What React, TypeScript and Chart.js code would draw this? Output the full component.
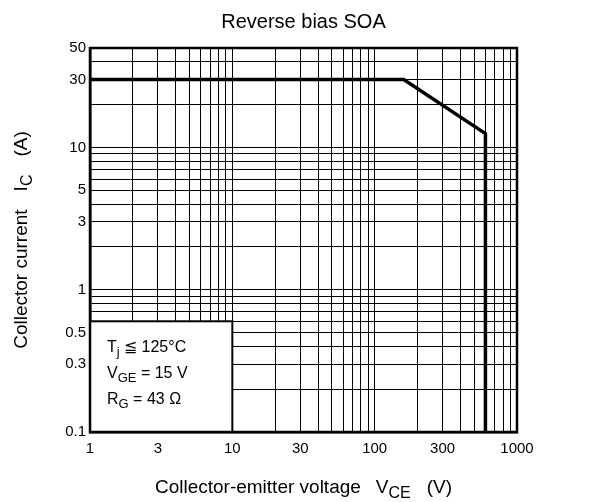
import React, { useEffect, useRef } from "react";
import { Chart, registerables } from "chart.js";

Chart.register(...registerables);

const TITLE = "Reverse bias SOA";
const X_TITLE_MAIN = "Collector-emitter voltage";
const X_TITLE_SYM = "V";
const X_TITLE_SUB = "CE";
const X_TITLE_UNIT = "(V)";
const Y_TITLE_MAIN = "Collector current";
const Y_TITLE_SYM = "I";
const Y_TITLE_SUB = "C";
const Y_TITLE_UNIT = "(A)";

// SOA boundary curve
const curveVce = [1, 160, 600, 600];
const curveIc = [30, 30, 12.5, 0.1];

// grid ticks
const xGridTicks = [1, 2, 3, 4, 5, 6, 7, 8, 9, 10, 20, 30, 40, 50, 60, 70, 80, 90, 100, 200, 300, 400, 500, 600, 700, 800, 900, 1000];
const xLabelTicks = [1, 3, 10, 30, 100, 300, 1000];
const yGridTicks = [0.1, 0.2, 0.3, 0.4, 0.5, 0.6, 0.7, 0.8, 0.9, 1, 2, 3, 4, 5, 6, 7, 8, 9, 10, 20, 30, 40, 50];
const yLabelTicks = [0.1, 0.3, 0.5, 1, 3, 5, 10, 30, 50];

// condition box extents (in data units)
const boxX = [1, 10];
const boxY = [0.1, 0.6];
const conditionLines = [
  [{ t: "T" }, { t: "j", sub: true }, { t: " ≦ 125°C" }],
  [{ t: "V" }, { t: "GE", sub: true }, { t: " = 15 V" }],
  [{ t: "R" }, { t: "G", sub: true }, { t: " = 43 Ω" }],
];

const FONT = "'Liberation Sans', Arial, Helvetica, sans-serif";

type Part = { t: string; sub?: boolean; gap?: number };

function measureParts(ctx: CanvasRenderingContext2D, parts: Part[], size: number, subSize: number) {
  let w = 0;
  for (const p of parts) {
    if (p.gap) { w += p.gap; continue; }
    ctx.font = `${p.sub ? subSize : size}px ${FONT}`;
    w += ctx.measureText(p.t).width;
  }
  return w;
}

function drawParts(ctx: CanvasRenderingContext2D, parts: Part[], x: number, y: number, size: number, subSize: number, subDy: number) {
  let cx = x;
  ctx.textAlign = "left";
  ctx.textBaseline = "alphabetic";
  for (const p of parts) {
    if (p.gap) { cx += p.gap; continue; }
    ctx.font = `${p.sub ? subSize : size}px ${FONT}`;
    ctx.fillText(p.t, cx, p.sub ? y + subDy : y);
    cx += ctx.measureText(p.t).width;
  }
}

const annotPlugin = {
  id: "annot",
  afterDraw(chart: any) {
    const ctx: CanvasRenderingContext2D = chart.ctx;
    const xs = chart.scales.x;
    const ys = chart.scales.y;
    const area = chart.chartArea;
    ctx.save();
    ctx.fillStyle = "#000";

    // condition box
    const bl = xs.getPixelForValue(boxX[0]);
    const br = xs.getPixelForValue(boxX[1]);
    const bt = ys.getPixelForValue(boxY[1]);
    const bb = ys.getPixelForValue(boxY[0]);
    ctx.fillStyle = "#fff";
    ctx.fillRect(bl, bt, br - bl, bb - bt);
    ctx.strokeStyle = "#000";
    ctx.lineWidth = 2;
    ctx.strokeRect(bl, bt, br - bl, bb - bt);
    ctx.fillStyle = "#000";
    conditionLines.forEach((line, i) => {
      drawParts(ctx, line as Part[], bl + 17, bt + 31 + i * 26, 16, 13, 4);
    });

    // frame
    ctx.lineWidth = 2.5;
    ctx.strokeRect(area.left, area.top, area.right - area.left, area.bottom - area.top);

    // title
    ctx.font = `20px ${FONT}`;
    ctx.textAlign = "center";
    ctx.textBaseline = "alphabetic";
    ctx.fillText(TITLE, (area.left + area.right) / 2, 28);

    // x title
    const xParts: Part[] = [
      { t: X_TITLE_MAIN }, { t: "", gap: 15 }, { t: X_TITLE_SYM }, { t: X_TITLE_SUB, sub: true }, { t: "", gap: 16 }, { t: X_TITLE_UNIT },
    ];
    const xw = measureParts(ctx, xParts, 19, 16);
    drawParts(ctx, xParts, (area.left + area.right) / 2 - xw / 2, 493, 19, 16, 5);

    // y title
    const yParts: Part[] = [
      { t: Y_TITLE_MAIN }, { t: "", gap: 18 }, { t: Y_TITLE_SYM }, { t: Y_TITLE_SUB, sub: true }, { t: "", gap: 18 }, { t: Y_TITLE_UNIT },
    ];
    const yw = measureParts(ctx, yParts, 19, 16);
    ctx.translate(27, (area.top + area.bottom) / 2);
    ctx.rotate(-Math.PI / 2);
    drawParts(ctx, yParts, -yw / 2, 0, 19, 16, 5);

    ctx.restore();
  },
};

export default function App() {
  const ref = useRef<HTMLCanvasElement | null>(null);

  useEffect(() => {
    if (!ref.current) return;
    Chart.defaults.font.family = FONT;
    Chart.defaults.color = "#000";
    const data = curveVce.map((v, i) => ({ x: v, y: curveIc[i] }));
    const chart = new Chart(ref.current, {
      type: "line",
      data: {
        datasets: [
          {
            data,
            borderColor: "#000",
            borderWidth: 3.5,
            pointRadius: 0,
            fill: false,
            tension: 0,
            borderJoinStyle: "miter",
          } as any,
        ],
      },
      options: {
        responsive: false,
        animation: false,
        layout: { padding: { top: 48, right: 86, left: 0, bottom: 0 } },
        plugins: {
          legend: { display: false },
          title: { display: false },
          tooltip: { enabled: false },
        },
        scales: {
          x: {
            type: "logarithmic",
            min: 1,
            max: 1000,
            afterBuildTicks: (s: any) => {
              s.ticks = xGridTicks.map((v) => ({ value: v }));
            },
            afterFit: (s: any) => {
              s.height = 70;
            },
            ticks: {
              autoSkip: false,
              maxRotation: 0,
              padding: 8,
              font: { size: 15 },
              color: "#000",
              callback: (v: any) => (xLabelTicks.includes(Number(v)) ? String(v) : ""),
            },
            grid: { color: "#000", lineWidth: 1, drawTicks: false },
            border: { display: true, color: "#000", width: 2.5 },
          },
          y: {
            type: "logarithmic",
            min: 0.1,
            max: 50,
            afterBuildTicks: (s: any) => {
              s.ticks = yGridTicks.map((v) => ({ value: v }));
            },
            afterFit: (s: any) => {
              s.width = 90;
            },
            ticks: {
              autoSkip: false,
              padding: 4,
              font: { size: 15 },
              color: "#000",
              callback: (v: any) => (yLabelTicks.includes(Number(v)) ? String(v) : ""),
            },
            grid: { color: "#000", lineWidth: 1, drawTicks: false },
            border: { display: true, color: "#000", width: 2.5 },
          },
        },
      },
      plugins: [annotPlugin],
    });
    return () => chart.destroy();
  }, []);

  return (
    <div style={{ position: "fixed", left: 0, top: 0, width: 603, height: 502, background: "#fff" }}>
      <canvas ref={ref} width={603} height={502} style={{ display: "block" }} />
    </div>
  );
}
